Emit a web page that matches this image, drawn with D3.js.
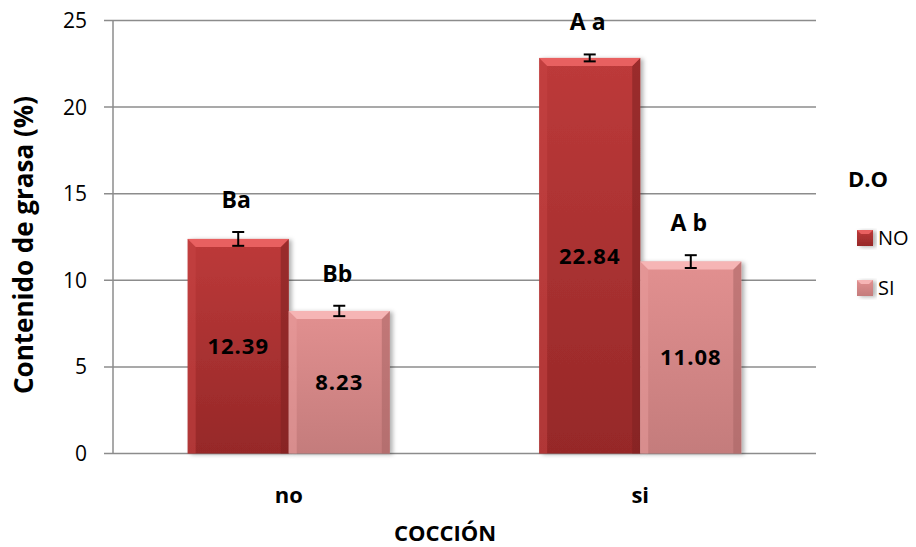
<!DOCTYPE html>
<html>
<head>
<meta charset="utf-8">
<script src="https://cdn.jsdelivr.net/npm/d3@7/dist/d3.min.js"></script>
<style>
  html, body { margin: 0; padding: 0; background: #fff; }
  svg { display: block; font-family: "Open Sans", "Liberation Sans", sans-serif; }
</style>
</head>
<body>
<svg id="chart" width="916" height="547"></svg>
<script>
// ---- data ----
const categories = ["no", "si"];
const seriesNames = ["NO", "SI"];
const valuesNO = [12.39, 22.84];
const valuesSI = [8.23, 11.08];
const errorsNO = [0.4, 0.2];
const errorsSI = [0.3, 0.37];
const lettersNO = ["Ba", "A a"];
const lettersSI = ["Bb", "A b"];
const yTicks = [0, 5, 10, 15, 20, 25];
const yTitle = "Contenido de grasa (%)";
const xTitle = "COCCIÓN";
const legendTitle = "D.O";

// ---- layout ----
const svg = d3.select("#chart");
const plot = { left: 113, right: 816, top: 20.5, bottom: 453.5 };

const x0 = d3.scaleBand().domain(categories).range([plot.left, plot.right]).paddingInner(0.425).paddingOuter(0.2125);
const x1 = d3.scaleBand().domain(seriesNames).range([0, x0.bandwidth()]);
const y = d3.scaleLinear().domain([0, 25]).range([plot.bottom, plot.top]);

const palette = {
  NO: { top: "#e86060", main: "#bd3a3a", bottom: "#962828", left: "#c64343", right: "#7e2020" },
  SI: { top: "#f6b5b5", main: "#e29090", bottom: "#c47c7c", left: "#e89a9a", right: "#a86464" }
};

const defs = svg.append("defs");
seriesNames.forEach(s => {
  const g = defs.append("linearGradient").attr("id", "grad" + s).attr("x1", 0).attr("y1", 0).attr("x2", 0).attr("y2", 1);
  g.append("stop").attr("offset", "0%").attr("stop-color", palette[s].main);
  g.append("stop").attr("offset", "100%").attr("stop-color", palette[s].bottom);
});
const f = defs.append("filter").attr("id", "shadow").attr("x", "-10%").attr("y", "-10%").attr("width", "130%").attr("height", "130%");
f.append("feDropShadow").attr("dx", 3).attr("dy", 1).attr("stdDeviation", 2).attr("flood-color", "#000").attr("flood-opacity", 0.3);

// gridlines
svg.append("g").selectAll("line").data(yTicks).join("line")
  .attr("x1", plot.left - 9).attr("x2", plot.right)
  .attr("y1", d => y(d)).attr("y2", d => y(d))
  .attr("stroke", "#8c8c8c").attr("stroke-width", 1.5);

// y axis line
svg.append("line").attr("x1", plot.left).attr("x2", plot.left)
  .attr("y1", y(25)).attr("y2", y(0)).attr("stroke", "#8c8c8c").attr("stroke-width", 1.5);

// y tick labels
svg.append("g").selectAll("text").data(yTicks).join("text")
  .attr("x", 87).attr("y", d => y(d)).attr("dy", "0.36em")
  .attr("text-anchor", "end").attr("font-size", 21).attr("fill", "#000")
  .text(d => d);

// bars
const rows = [];
categories.forEach((c, i) => {
  rows.push({ cat: c, s: "NO", v: valuesNO[i], e: errorsNO[i], letter: lettersNO[i] });
  rows.push({ cat: c, s: "SI", v: valuesSI[i], e: errorsSI[i], letter: lettersSI[i] });
});

const bars = svg.append("g").selectAll("g").data(rows).join("g");
bars.each(function(d) {
  const g = d3.select(this);
  const bx = x0(d.cat) + x1(d.s), bw = x1.bandwidth();
  const by = y(d.v), bh = y(0) - y(d.v);
  const b = 8;
  const p = palette[d.s];
  g.append("rect").attr("x", bx).attr("y", by).attr("width", bw).attr("height", bh)
    .attr("fill", `url(#grad${d.s})`).attr("filter", "url(#shadow)");
  g.append("polygon").attr("points", [[bx, by], [bx + b, by + b], [bx + b, by + bh], [bx, by + bh]].join(" "))
    .attr("fill", p.left).attr("opacity", 0.55);
  g.append("polygon").attr("points", [[bx + bw, by], [bx + bw - b, by + b], [bx + bw - b, by + bh], [bx + bw, by + bh]].join(" "))
    .attr("fill", p.right).attr("opacity", 0.55);
  g.append("polygon").attr("points", [[bx, by], [bx + bw, by], [bx + bw - b, by + b], [bx + b, by + b]].join(" "))
    .attr("fill", p.top);
  // error bar
  const cx = bx + bw / 2;
  const ge = g.append("g").attr("stroke", "#000").attr("stroke-width", 2);
  ge.append("line").attr("x1", cx).attr("x2", cx).attr("y1", y(d.v + d.e)).attr("y2", y(d.v - d.e));
  ge.append("line").attr("x1", cx - 6).attr("x2", cx + 6).attr("y1", y(d.v + d.e)).attr("y2", y(d.v + d.e));
  ge.append("line").attr("x1", cx - 6).attr("x2", cx + 6).attr("y1", y(d.v - d.e)).attr("y2", y(d.v - d.e));
  // value label
  g.append("text").attr("x", cx).attr("y", y(d.v / 2)).attr("dy", "0.36em")
    .attr("text-anchor", "middle").attr("font-size", 22).attr("font-weight", "bold")
    .attr("letter-spacing", 1).attr("fill", "#000").text(d.v.toFixed(2));
  // significance letters
  g.append("text").attr("x", cx - 2).attr("y", y(d.v + d.e) - 24)
    .attr("text-anchor", "middle").attr("font-size", 23).attr("font-weight", "bold")
    .attr("fill", "#000").text(d.letter);
});

// category labels
svg.append("g").selectAll("text").data(categories).join("text")
  .attr("x", d => x0(d) + x0.bandwidth() / 2).attr("y", 503)
  .attr("text-anchor", "middle").attr("font-size", 22).attr("font-weight", "bold")
  .text(d => d);

// axis titles
svg.append("text").attr("x", 445).attr("y", 541).attr("text-anchor", "middle")
  .attr("font-size", 22).attr("font-weight", "bold").text(xTitle);
svg.append("text").attr("transform", "translate(33,245) rotate(-90)")
  .attr("text-anchor", "middle").attr("font-size", 26).attr("font-weight", "bold").text(yTitle);

// legend
svg.append("text").attr("x", 848).attr("y", 187).attr("font-size", 22).attr("font-weight", "bold").text(legendTitle);
const leg = svg.append("g").selectAll("g").data(seriesNames).join("g")
  .attr("transform", (d, i) => `translate(857,${230 + i * 50})`);
leg.append("rect").attr("width", 16).attr("height", 16).attr("fill", d => `url(#grad${d})`).attr("filter", "url(#shadow)");
leg.append("polygon").attr("points", "0,0 16,0 12,4 4,4").attr("fill", d => palette[d].top);
leg.append("text").attr("x", 21).attr("y", 8).attr("dy", "0.36em").attr("font-size", 20).text(d => d);
</script>
</body>
</html>
